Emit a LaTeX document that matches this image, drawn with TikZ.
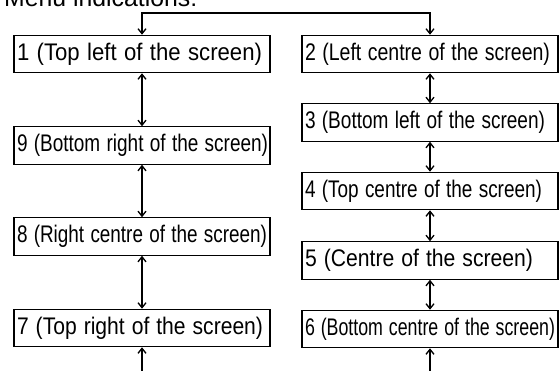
\documentclass[tikz,border=0pt]{standalone}
\usepackage{fontspec}
\setmainfont{Liberation Sans}
\usetikzlibrary{arrows.meta}
\begin{document}
\begin{tikzpicture}[x=1pt,y=-1pt,
  box/.style={draw=black,line width=1.1pt,rectangle,text width=250pt,align=left,
    inner xsep=3pt,inner ysep=0pt,minimum height=37.5pt,
    font=\fontsize{24}{27}\selectfont},
  link/.style={line width=1.3pt,{Straight Barb[length=5pt,width=8pt]}-{Straight Barb[length=5pt,width=8pt]}},
  uplink/.style={line width=1.3pt,-{Straight Barb[length=5pt,width=8pt]}}]
\useasboundingbox (0,0) rectangle (560,370);
\clip (0,0) rectangle (560,370);
\node[anchor=base west,inner sep=0pt,font=\fontsize{25}{28}\selectfont] (title) at (4,6.5)
  {\resizebox{193pt}{\height}{Menu indications:}};
% left column
\node[box] (b1) at (142,54)    {\resizebox{245pt}{\height}{1 (Top left of the screen)}};
\node[box] (b9) at (142,145.5) {\resizebox{251pt}{\height}{9 (Bottom right of the screen)}};
\node[box] (b8) at (142,236.5) {\resizebox{250pt}{\height}{8 (Right centre of the screen)}};
\node[box] (b7) at (142,328)   {\resizebox{246pt}{\height}{7 (Top right of the screen)}};
% right column
\node[box] (b2) at (430,54)    {\resizebox{245pt}{\height}{2 (Left centre of the screen)}};
\node[box] (b3) at (430,122.5) {\resizebox{240pt}{\height}{3 (Bottom left of the screen)}};
\node[box] (b4) at (430,191)   {\resizebox{237pt}{\height}{4 (Top centre of the screen)}};
\node[box] (b5) at (430,260.5) {\resizebox{228pt}{\height}{5 (Centre of the screen)}};
\node[box] (b6) at (430,329)   {\resizebox{250pt}{\height}{6 (Bottom centre of the screen)}};
% connectors
\coordinate (topR) at (430,13);
\coordinate (botL) at (142,372);
\coordinate (botR) at (430,372);
\draw[link] (b1.north) |- (topR) -- (b2.north);
\draw[link] (b1) -- (b9);
\draw[link] (b9) -- (b8);
\draw[link] (b8) -- (b7);
\draw[link] (b2) -- (b3);
\draw[link] (b3) -- (b4);
\draw[link] (b4) -- (b5);
\draw[link] (b5) -- (b6);
\draw[uplink] (botL) -- (b7);
\draw[uplink] (botR) -- (b6);
\end{tikzpicture}
\end{document}
